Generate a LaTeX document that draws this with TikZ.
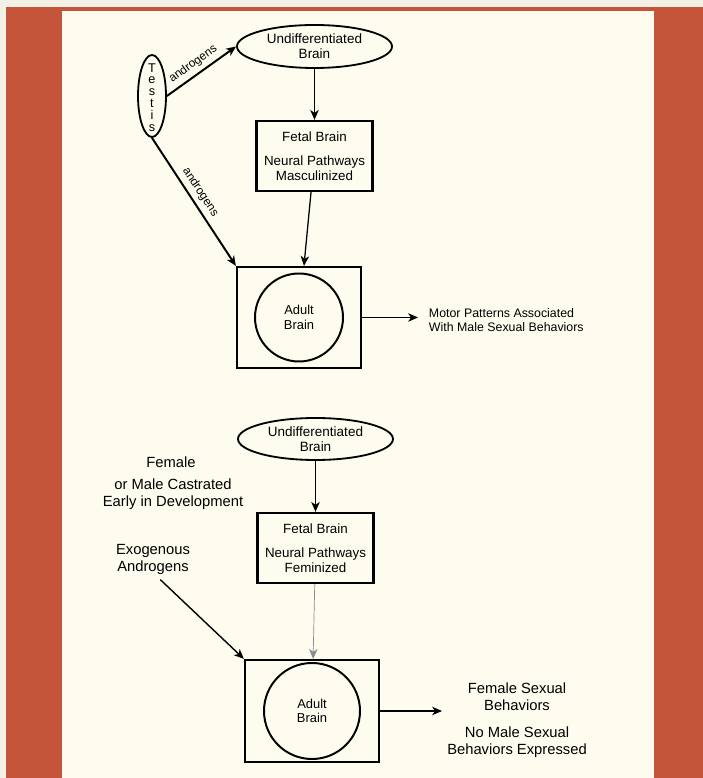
\documentclass[tikz,border=0pt]{standalone}
\usepackage{fontspec}
\setmainfont{Liberation Sans}
\usepackage{tikz}
\usetikzlibrary{calc, arrows, arrows.meta, shapes.geometric, positioning}
\definecolor{pagebg}{HTML}{F3F1E6}
\definecolor{framered}{HTML}{C5553A}
\definecolor{panel}{HTML}{FEFCEE}
\tikzstyle{blob}=[draw, ellipse, line width=1.3pt, inner sep=0pt, align=center, font=\fontsize{9.6}{10.8}\selectfont]
\tikzstyle{int}=[draw, line width=1.6pt, minimum width=2.9cm, minimum height=1.75cm, align=center, font=\fontsize{9.5}{10.5}\selectfont]
\tikzstyle{adult}=[draw, line width=1.6pt, inner sep=0pt]
\tikzstyle{brain}=[draw, circle, line width=1.4pt, inner sep=0pt, align=center, font=\fontsize{9.2}{10.2}\selectfont]
\tikzstyle{note}=[align=center, font=\fontsize{10.5}{12}\selectfont]
\tikzstyle{hormone}=[sloped, above, pos=0.47, inner sep=3pt, font=\fontsize{8.4}{9}\selectfont]

\begin{document}
\begin{tikzpicture}[node distance=2cm,>={Stealth[length=7pt,width=6pt,inset=2pt]}]
      \useasboundingbox (0,0) rectangle (17.575,19.45);
      \fill[pagebg] (0,0) rectangle (17.575,19.45);
      \fill[framered] (0.15,0) rectangle (17.575,19.275);
      \fill[panel] (1.55,0) rectangle (16.35,19.175);

      % male
      \node [blob, minimum width=3.875cm, minimum height=1.075cm] (undiff1) at (7.8625,18.2875) {Undifferentiated\\Brain};
      \node [blob, minimum width=0.7cm, minimum height=2.05cm,
             label={[align=center, yshift=-1pt, font=\fontsize{9}{8.4}\selectfont]center:T\\e\\s\\t\\i\\s}] (testis) at (3.8,17.05) {};
      \node [int] (fetal1) [below of=undiff1, node distance=2.7375cm] {Fetal Brain\\[7pt]Neural Pathways\\Masculinized};
      \node [adult, minimum width=3.1cm, minimum height=2.525cm] (adultbox1) at (7.475,11.5125) {};
      \node [brain, minimum size=2.2cm] (brain1) at (adultbox1) {Adult\\Brain};
      \node [coordinate] (end1) [right of=adultbox1, node distance=2.975cm] {};
      \node [note, anchor=west, align=left, font=\fontsize{8.8}{10}\selectfont] (motor) at (10.6,11.45) {Motor Patterns Associated\\With Male Sexual Behaviors};

      \path[->] (testis.east) edge [line width=1.4pt] node [hormone] {androgens} (undiff1.west);
      \path[->] (testis.south) edge [line width=1.4pt] node [hormone] {androgens} (adultbox1.north west);
      \path[->] (undiff1) edge [line width=1.4pt] (fetal1);
      \path[->] (fetal1) edge [line width=0.9pt] (adultbox1);
      \draw[->, line width=0.9pt] (adultbox1) -- (end1);

      % female
      \node [blob, minimum width=3.875cm, minimum height=1.05cm] (undiff2) at (7.8875,8.475) {Undifferentiated\\Brain};
      \node [int] (fetal2) [below of=undiff2, node distance=2.725cm] {Fetal Brain\\[7pt]Neural Pathways\\Feminized};
      \node [adult, minimum width=3.35cm, minimum height=2.55cm] (adultbox2) at (7.8,1.675) {};
      \node [brain, minimum size=2.4cm] (brain2) at (adultbox2) {Adult\\Brain};
      \node [coordinate] (end2) [right of=adultbox2, node distance=3.25cm] {};
      \node [note] (female) at (4.275,7.9) {Female};
      \node [note] (castrated) at (4.325,7.09) {or Male Castrated\\Early in Development};
      \node [note] (exo) at (3.825,5.46) {Exogenous\\Androgens};
      \node [note] (behav) at (12.925,1.45) {Female Sexual\\Behaviors\\[7pt]No Male Sexual\\Behaviors Expressed};

      \path[->] (undiff2) edge [line width=1.4pt] (fetal2);
      \path[->] (fetal2) edge [line width=0.5pt, black!45] (adultbox2);
      \path[->] (exo.290) edge [line width=1pt] (adultbox2.north west);
      \draw[->, line width=1pt] (adultbox2) -- (end2);
  \end{tikzpicture}
\end{document}
